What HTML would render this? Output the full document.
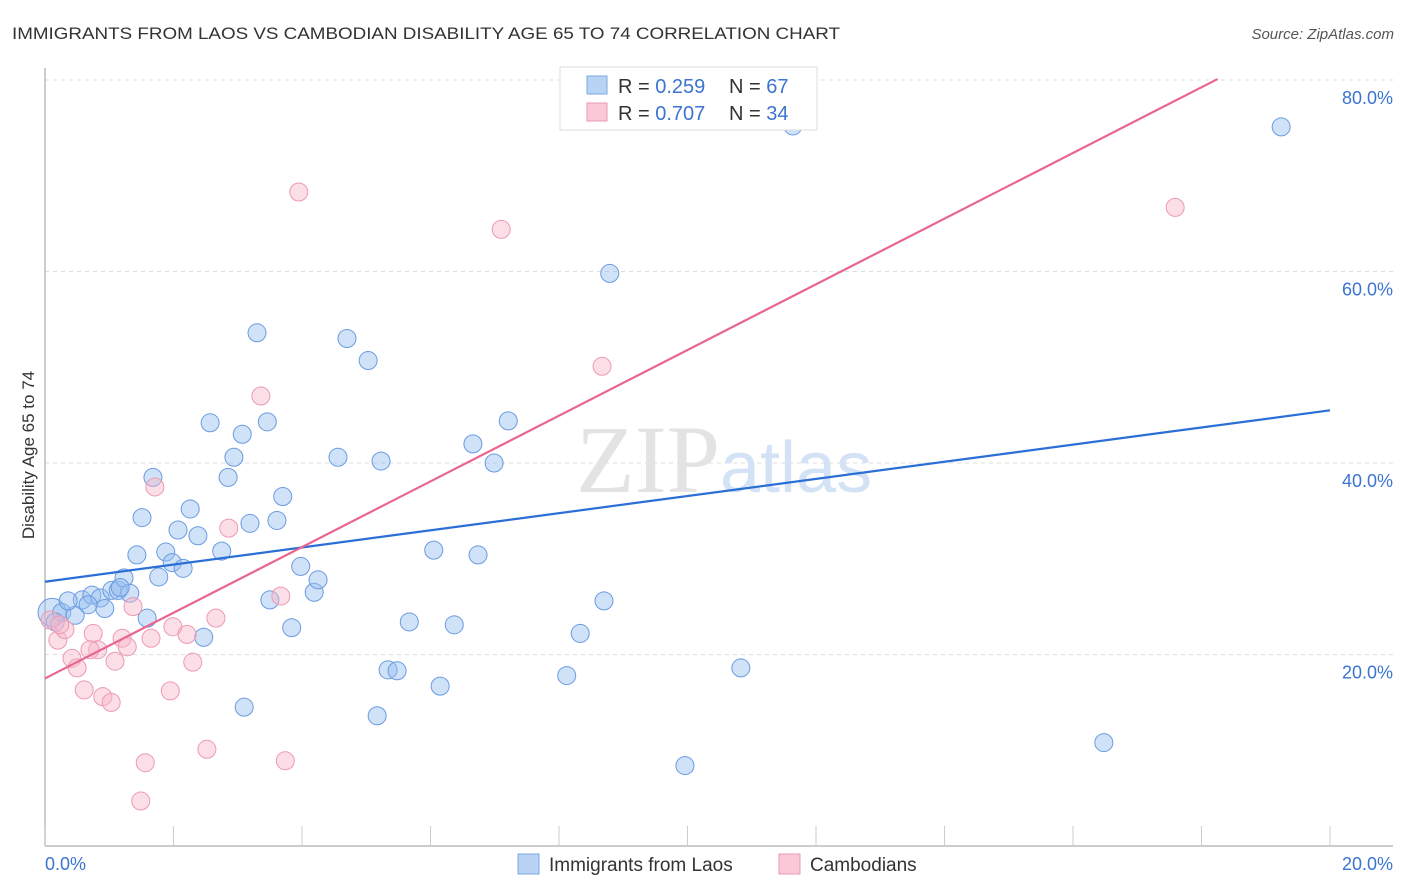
<!DOCTYPE html>
<html><head><meta charset="utf-8">
<style>
html,body{margin:0;padding:0;background:#fff;}
svg{display:block;font-family:"Liberation Sans",sans-serif;}
</style></head>
<body>
<svg id="chart" width="1406" height="892" viewBox="0 0 1406 892">
<text x="12" y="39" font-size="17" fill="#333" textLength="828" lengthAdjust="spacingAndGlyphs">IMMIGRANTS FROM LAOS VS CAMBODIAN DISABILITY AGE 65 TO 74 CORRELATION CHART</text>
<text x="1394" y="39" font-size="15" fill="#555" font-style="italic" text-anchor="end">Source: ZipAtlas.com</text>
<g id="grid"></g>
<g id="axes"></g>
<text x="720" y="492" font-size="96" fill="#e3e3e3" text-anchor="end" font-family="Liberation Serif,serif">ZIP</text>
<text x="720" y="492" font-size="72" fill="#d4e2f5">atlas</text>
<text transform="translate(34,455) rotate(-90)" font-size="17" fill="#333" text-anchor="middle">Disability Age 65 to 74</text>
<g id="pts"></g>
<g id="lines"></g>
<g>
<rect x="560" y="67" width="257" height="63" fill="#fff" stroke="#ddd"/>
<rect x="587" y="76" width="20" height="18" fill="#b9d3f5" stroke="#7aa7e3"/>
<rect x="587" y="103" width="20" height="18" fill="#f9c9d7" stroke="#eb9ab2"/>
<text x="618" y="93" font-size="20" fill="#333">R = <tspan fill="#3b74d1">0.259</tspan></text>
<text x="729" y="93" font-size="20" fill="#333">N = <tspan fill="#3b74d1">67</tspan></text>
<text x="618" y="120" font-size="20" fill="#333">R = <tspan fill="#3b74d1">0.707</tspan></text>
<text x="729" y="120" font-size="20" fill="#333">N = <tspan fill="#3b74d1">34</tspan></text>
</g>
<g>
<rect x="518" y="854" width="21" height="20" fill="#b9d3f5" stroke="#7aa7e3"/>
<text x="549" y="871" font-size="19" fill="#333">Immigrants from Laos</text>
<rect x="779" y="854" width="21" height="20" fill="#f9c9d7" stroke="#eb9ab2"/>
<text x="810" y="871" font-size="19" fill="#333">Cambodians</text>
</g>
</svg>
<script>
const xTicks = [0, 20];
const xTickLabels = ["0.0%", "20.0%"];
const yTicks = [20, 40, 60, 80];
const yTickLabels = ["20.0%", "40.0%", "60.0%", "80.0%"];
const laosX = [0.11,0.26,0.47,0.58,0.73,0.86,0.93,1.04,1.14,1.23,1.32,1.43,1.51,1.59,1.68,1.77,1.88,1.98,2.07,2.15,2.26,2.38,2.47,2.57,2.75,2.85,2.94,3.07,3.10,3.19,3.30,3.46,3.50,3.61,3.70,3.84,3.98,4.19,4.25,4.56,4.70,5.03,5.17,5.23,5.34,5.48,5.67,6.05,6.15,6.37,6.66,6.74,6.99,7.21,8.12,8.33,8.70,8.79,9.96,10.83,11.64,16.48,19.24,0.16,0.36,0.67,1.17];
const laosY = [24.4,24.4,24.1,25.7,26.2,25.9,24.8,26.7,26.7,28.0,26.4,30.4,34.3,23.8,38.5,28.1,30.7,29.6,33.0,29.0,35.2,32.4,21.8,44.2,30.8,38.5,40.6,43.0,14.5,33.7,53.6,44.3,25.7,34.0,36.5,22.8,29.2,26.5,27.8,40.6,53.0,50.7,13.6,40.2,18.4,18.3,23.4,30.9,16.7,23.1,42.0,30.4,40.0,44.4,17.8,22.2,25.6,59.8,8.4,18.6,75.2,10.8,75.1,23.4,25.6,25.2,27.0];
const camX = [0.08,0.20,0.31,0.42,0.50,0.61,0.75,0.82,0.90,1.03,1.09,1.20,1.28,1.37,1.56,1.49,1.65,1.71,1.95,1.99,2.21,2.30,2.52,2.66,2.86,3.36,3.67,3.74,3.95,7.10,8.67,17.59,0.23,0.70];
const camY = [23.6,21.5,22.6,19.6,18.6,16.3,22.2,20.5,15.6,15.0,19.3,21.7,20.8,25.0,8.7,4.7,21.7,37.5,16.2,22.9,22.1,19.2,10.1,23.8,33.2,47.0,26.1,8.9,68.3,64.4,50.1,66.7,23.1,20.5];
const laosTrend = [[0, 27.6], [20, 45.5]];
const camTrend = [[0, 17.5], [18.25, 80.1]];

const X0 = 45, X1 = 1330, Y0 = 846, PXPER = 9.575;
function sx(v){ return X0 + v / 20 * (X1 - X0); }
function sy(v){ return Y0 - v * PXPER; }
const NS = "http://www.w3.org/2000/svg";
function mk(tag, attrs, parent){ const e = document.createElementNS(NS, tag); for (const k in attrs) e.setAttribute(k, attrs[k]); parent.appendChild(e); return e; }

const grid = document.getElementById('grid');
yTicks.forEach((t, i) => {
  const l = mk('line', {x1: X0, x2: 1393, y1: sy(t), y2: sy(t), stroke: '#ddd', 'stroke-dasharray': '4,4'}, grid);
  
  
  const tx = mk('text', {x: 1393, y: sy(t) + 24, 'font-size': 18, fill: '#3b74d1', 'text-anchor': 'end'}, grid);
  tx.textContent = yTickLabels[i];
  
  
});
const axes = document.getElementById('axes');
const ya = mk('line', {x1: X0, x2: X0, y1: 68, y2: Y0, stroke: '#bbb', 'stroke-width': 1.5}, axes);


const xa = mk('line', {x1: X0, x2: 1393, y1: Y0, y2: Y0, stroke: '#bbb', 'stroke-width': 1.5}, axes);


for (let i = 0; i <= 10; i++) {
  const x = sx(i * 2);
  const tk = mk('line', {x1: x, x2: x, y1: 826, y2: Y0, stroke: '#ccc'}, axes);
  
  
}
xTicks.forEach((t, i) => {
  const tx = mk('text', {x: i === 0 ? sx(t) : 1393, y: 870, 'font-size': 18, fill: '#3b74d1', 'text-anchor': i === 0 ? 'start' : 'end'}, axes);
  tx.textContent = xTickLabels[i];
  
  
});

const pts = document.getElementById('pts');
laosX.forEach((x, i) => {
  const c = mk('circle', {cx: sx(x), cy: sy(laosY[i]), r: i === 0 ? 14 : 9, fill: 'rgba(150,190,240,0.45)', stroke: '#6b9be0', 'stroke-width': 1}, pts);
  
  
});
camX.forEach((x, i) => {
  const c = mk('circle', {cx: sx(x), cy: sy(camY[i]), r: 9, fill: 'rgba(248,182,202,0.45)', stroke: '#ec9ab3', 'stroke-width': 1}, pts);
  
  
});

const lines = document.getElementById('lines');
const bl = mk('line', {x1: sx(laosTrend[0][0]), y1: sy(laosTrend[0][1]), x2: sx(laosTrend[1][0]), y2: sy(laosTrend[1][1]), stroke: '#2a6fd6', 'stroke-width': 2.2}, lines);


const pl = mk('line', {x1: sx(camTrend[0][0]), y1: sy(camTrend[0][1]), x2: sx(camTrend[1][0]), y2: sy(camTrend[1][1]), stroke: '#e8668f', 'stroke-width': 2.2}, lines);


</script>
</body></html>
